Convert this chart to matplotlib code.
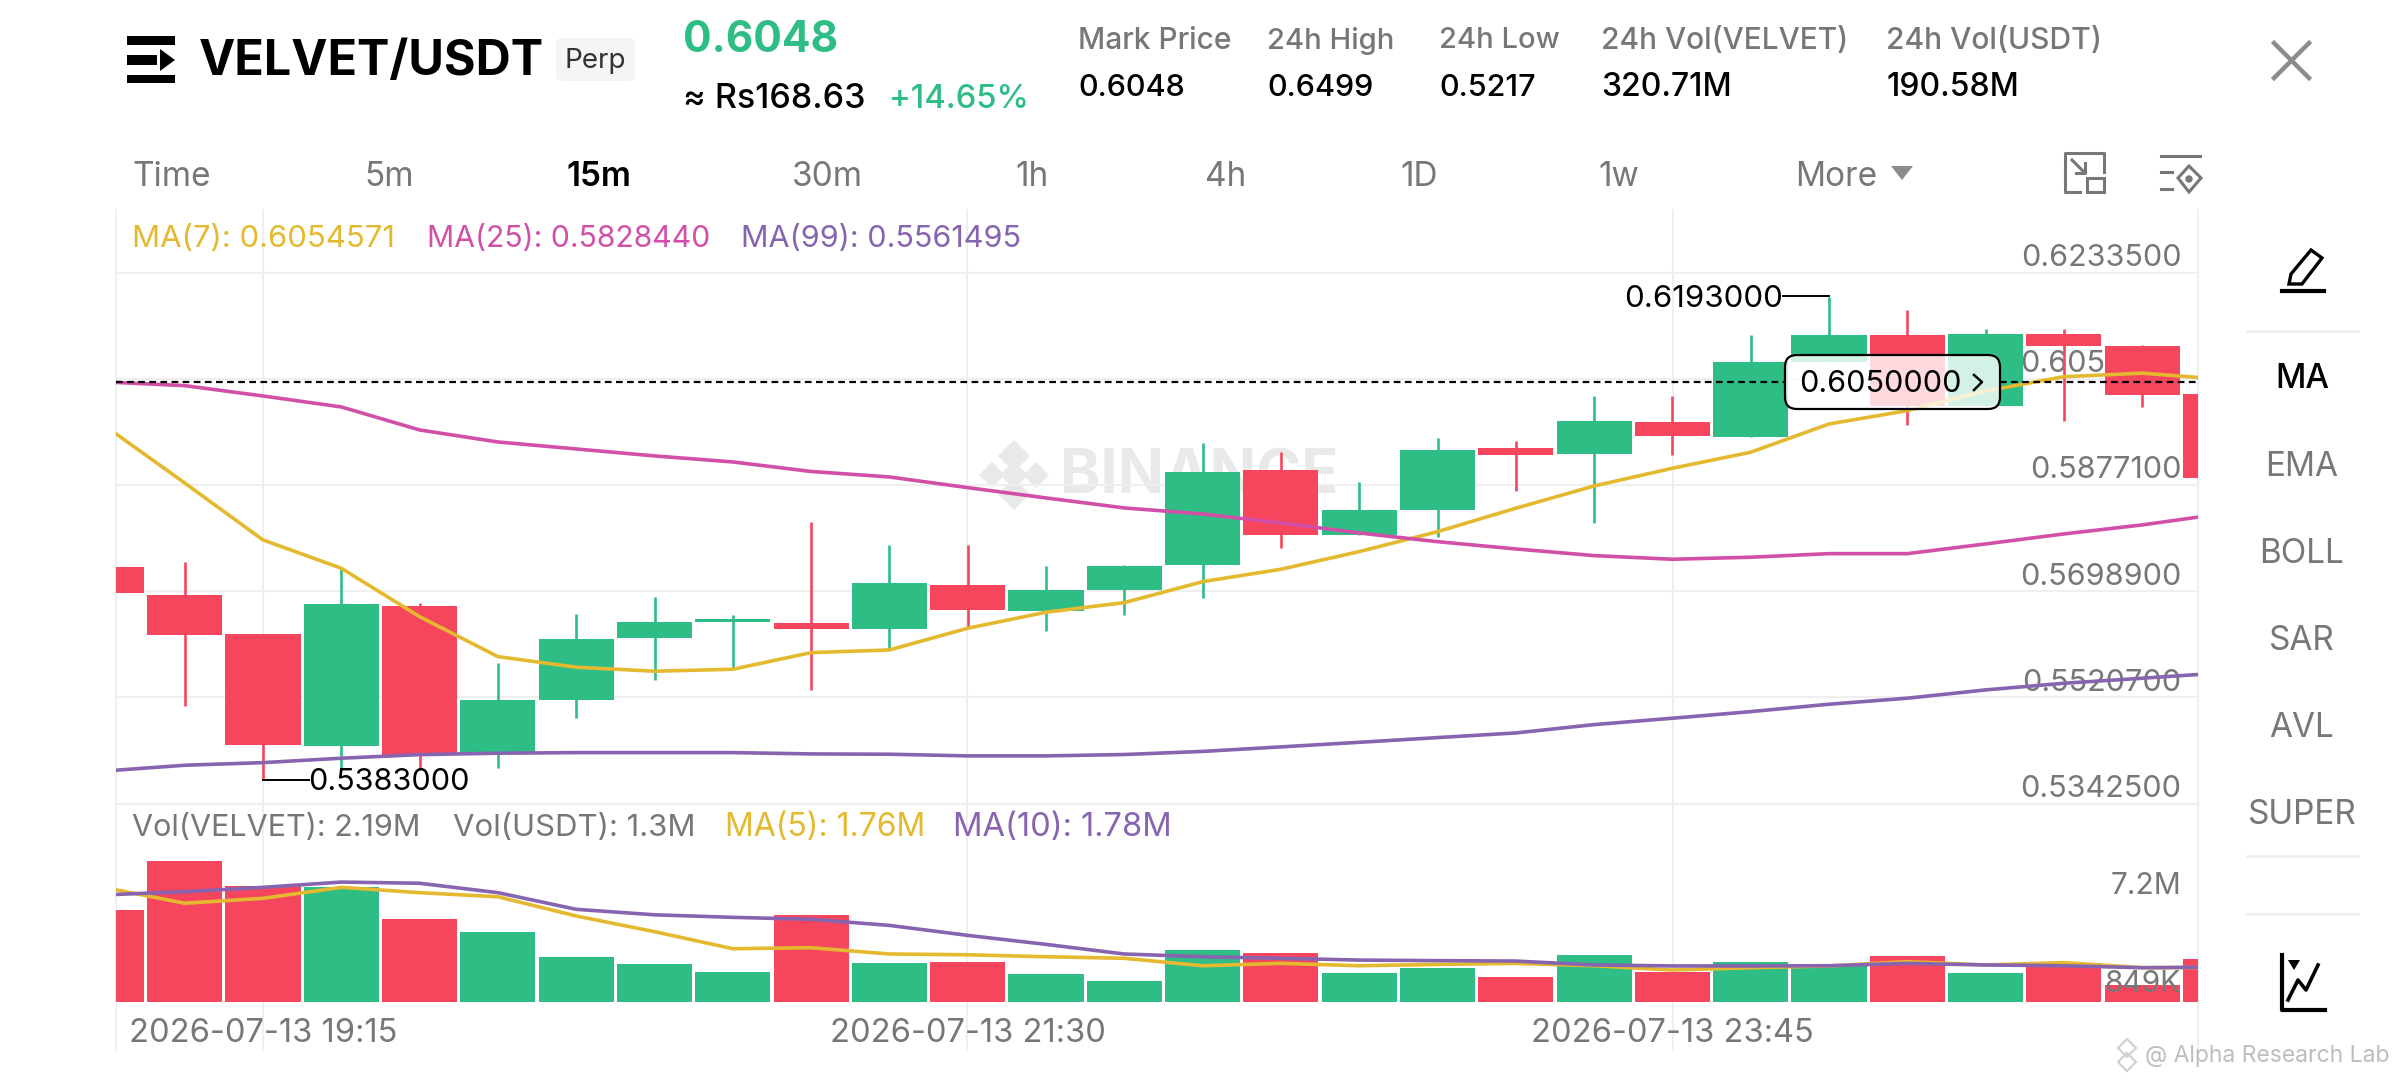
import matplotlib
matplotlib.use('Agg')
import matplotlib.pyplot as plt
from matplotlib.patches import FancyBboxPatch, Polygon, Rectangle, Circle

plt.rcParams['font.family'] = ['Inter', 'DejaVu Sans']

# price candles, one per 15 minutes
opens = [0.57390, 0.56920, 0.56271, 0.54386, 0.56741, 0.54279, 0.55168, 0.56199, 0.56467, 0.56455,
         0.56355, 0.57093, 0.56662, 0.57014, 0.57430, 0.59023, 0.57927, 0.58356, 0.59387, 0.59291,
         0.59828, 0.59580, 0.60835, 0.61288, 0.60097, 0.61305, 0.61103, 0.60305]
closes = [0.56959, 0.56259, 0.54408, 0.56774, 0.54240, 0.55163, 0.56182, 0.56467, 0.56517, 0.56355,
          0.57121, 0.56668, 0.57009, 0.57412, 0.58989, 0.57927, 0.58346, 0.59363, 0.59269, 0.59845,
          0.59593, 0.60835, 0.61288, 0.60097, 0.61305, 0.61097, 0.60288, 0.58890]
highs = [0.57390, 0.57484, 0.56271, 0.57373, 0.56786, 0.55784, 0.56606, 0.56892, 0.56584, 0.58155,
         0.57764, 0.57764, 0.57412, 0.57430, 0.59471, 0.59330, 0.58826, 0.59565, 0.59514, 0.60258,
         0.60258, 0.61288, 0.61930, 0.61707, 0.61395, 0.61384, 0.61127, 0.60305]
lows = [0.56959, 0.55068, 0.53830, 0.53989, 0.54010, 0.54017, 0.54861, 0.55504, 0.55678, 0.55331,
        0.56019, 0.56366, 0.56326, 0.56584, 0.56870, 0.57719, 0.57927, 0.57903, 0.58675, 0.58128,
        0.59274, 0.59580, 0.60835, 0.59778, 0.60097, 0.59850, 0.60080, 0.58890]

ma7 = [0.59744, 0.58804, 0.57848, 0.57373, 0.56561, 0.55890, 0.55712, 0.55645, 0.55678, 0.55957,
       0.56002, 0.56366, 0.56635, 0.56796, 0.57148, 0.57356, 0.57652, 0.57987, 0.58380, 0.58754,
       0.59051, 0.59320, 0.59794, 0.60018, 0.60348, 0.60587, 0.60647, 0.60546]
ma25 = [0.60499, 0.60437, 0.60264, 0.60080, 0.59694, 0.59492, 0.59375, 0.59258, 0.59157, 0.58997,
        0.58905, 0.58726, 0.58553, 0.58385, 0.58284, 0.58133, 0.57965, 0.57819, 0.57697, 0.57585,
        0.57524, 0.57558, 0.57618, 0.57618, 0.57781, 0.57949, 0.58100, 0.58284]
ma99 = [0.53972, 0.54067, 0.54111, 0.54185, 0.54245, 0.54269, 0.54279, 0.54279, 0.54279, 0.54257,
        0.54252, 0.54224, 0.54224, 0.54247, 0.54299, 0.54375, 0.54452, 0.54531, 0.54609, 0.54749,
        0.54856, 0.54967, 0.55091, 0.55192, 0.55331, 0.55443, 0.55527, 0.55615]

# volume in millions
volume = [4.69, 7.19, 5.92, 5.85, 4.22, 3.57, 2.30, 1.95, 1.53, 4.44, 2.01, 2.06, 1.44, 1.06,
          2.65, 2.52, 1.49, 1.75, 1.29, 2.38, 1.55, 2.03, 1.85, 2.35, 1.49, 1.97, 0.85, 2.19]
vol_ma5 = [5.82, 5.04, 5.29, 5.85, 5.58, 5.37, 4.39, 3.59, 2.72, 2.77, 2.45, 2.41, 2.31, 2.23,
           1.85, 1.97, 1.85, 1.92, 1.97, 1.85, 1.63, 1.75, 1.84, 2.06, 1.89, 2.01, 1.75, 1.76]
vol_ma10 = [5.47, 5.63, 5.85, 6.12, 6.06, 5.58, 4.73, 4.45, 4.32, 4.22, 3.91, 3.40, 2.94, 2.45,
            2.31, 2.23, 2.14, 2.11, 2.09, 1.89, 1.84, 1.84, 1.85, 1.97, 1.89, 1.85, 1.75, 1.78]

price_ticks = [0.62335, 0.60553, 0.58771, 0.56989, 0.55207, 0.53425]
date_ticks = [2, 11, 20]
date_labels = ['2026-07-13 19:15', '2026-07-13 21:30', '2026-07-13 23:45']
last_price = 0.605

tabs = ['Time', '5m', '15m', '30m', '1h', '4h', '1D', '1w', 'More']
stat_names = ['Mark Price', '24h High', '24h Low', '24h Vol(VELVET)', '24h Vol(USDT)']
stat_values = ['0.6048', '0.6499', '0.5217', '320.71M', '190.58M']
side_items = ['MA', 'EMA', 'BOLL', 'SAR', 'AVL', 'SUPER']

GREEN = '#2EBD85'
RED = '#F6465D'
YELLOW = '#E5B92F'
MAGENTA = '#D24FA8'
PURPLE = '#8764B0'
GRAY = '#777777'
GRID = '#EFEFEF'
MARK = '#E9E9E9'
W, H = 2400, 1080
STEP = 78.3
X0 = 106.4

fig = plt.figure(figsize=(24, 10.8), dpi=100)


def box(x0, y0, x1, y1, zorder):
    return fig.add_axes([x0 / W, 1 - y1 / H, (x1 - x0) / W, (y1 - y0) / H], zorder=zorder)


# pixel layer behind the chart
ui = box(0, 0, W, H, 0)
ui.set_xlim(0, W)
ui.set_ylim(H, 0)
ui.axis('off')


def txt(a, x, y, s, size, color='black', weight='normal', ha='left'):
    a.text(x, y + 3, s, fontsize=size, color=color, fontweight=weight, ha=ha, va='center')


# header
ui.add_patch(Rectangle((127, 36), 48, 9, color='black', lw=0))
ui.add_patch(Rectangle((127, 55), 30, 10, color='black', lw=0))
ui.add_patch(Rectangle((127, 75), 48, 8, color='black', lw=0))
ui.add_patch(Polygon([[160, 49], [175, 60], [160, 71]], color='black', lw=0))
txt(ui, 199, 59, 'VELVET/USDT', 35, weight='bold')
ui.add_patch(FancyBboxPatch((556, 38), 79, 43, boxstyle='round,pad=0,rounding_size=6', fc='#F5F5F5', ec='none'))
txt(ui, 595, 58, 'Perp', 20, '#333333', ha='center')
txt(ui, 683, 38, '0.6048', 30.5, GREEN, 'bold')
txt(ui, 683, 96, '≈ Rs168.63', 24.5, weight='medium')
txt(ui, 889, 96, '+14.65%', 23.5, GREEN, 'medium')
for x, name, val, s1, s2 in zip([1078, 1267, 1439, 1601, 1886], stat_names, stat_values,
                                [21.5, 21, 21, 21.5, 21.6], [22, 22, 22, 23, 23]):
    txt(ui, x, 38, name, s1, GRAY, 'medium')
    txt(ui, x, 85, val, s2, weight='medium')
ui.plot([2274, 2309], [43, 78], color='#8C8C8C', lw=3.2)
ui.plot([2309, 2274], [43, 78], color='#8C8C8C', lw=3.2)

for x, name in zip([132, 364, 567, 792, 1015, 1205, 1400, 1598, 1795], tabs):
    if name == '15m':
        txt(ui, x, 174, name, 24, weight='semibold')
    else:
        txt(ui, x, 174, name, 24, GRAY)
ui.add_patch(Polygon([[1891, 166], [1913, 166], [1902, 180]], color='#8C8C8C', lw=0))

# top right icons
ui.plot([2065, 2065, 2104, 2104], [175, 153, 153, 172], color=GRAY, lw=2.2)
ui.plot([2065, 2065, 2080], [175, 192, 192], color=GRAY, lw=2.2)
ui.add_patch(Rectangle((2087, 178), 17, 14, fc='white', ec=GRAY, lw=2.2))
ui.plot([2072, 2084], [160, 172], color=GRAY, lw=2.2)
ui.plot([2076, 2085, 2085], [173, 173, 163], color=GRAY, lw=2.2)
ui.plot([2161, 2200], [156, 156], color=GRAY, lw=2.2)
ui.plot([2161, 2172], [172, 172], color=GRAY, lw=2.2)
ui.plot([2161, 2172], [189, 189], color=GRAY, lw=2.2)
ui.add_patch(Polygon([[2189, 166], [2201, 178], [2189, 192], [2178, 178]], fill=False, ec=GRAY, lw=2.2))
ui.add_patch(Circle((2189, 179), 3, color=GRAY))

# side panel
for y, name in zip([376, 464, 551, 638, 725, 812], side_items):
    if name == 'MA':
        txt(ui, 2302, y, name, 24, weight='medium', ha='center')
    else:
        txt(ui, 2302, y, name, 24, GRAY, ha='center')
for y in [331, 856, 914]:
    ui.plot([2247, 2358], [y, y], color=GRID, lw=2)
ui.add_patch(Polygon([[2311, 250], [2322, 258], [2302, 284], [2289, 284], [2291, 274]], fill=False, ec='black', lw=2.4))
ui.plot([2282, 2316], [291, 291], color='black', lw=3)
ui.plot([2320, 2324], [291, 291], color='black', lw=3)
ui.plot([2282, 2282, 2325], [955, 1010, 1010], color='black', lw=3)
ui.plot([2288, 2298, 2306, 2318], [1000, 980, 990, 965], color='black', lw=2.6)
ui.add_patch(Polygon([[2288, 960], [2300, 960], [2294, 970]], color='black', lw=0))

# frame and grid
for x in [116, 263, 967, 1673, 2198]:
    ui.plot([x, x], [210, 1050], color=GRID, lw=1.5)

# watermarks
for cx, cy, r in [(1014, 456, 16), (992, 475, 13), (1014, 475, 14), (1036, 475, 13), (1014, 494, 16)]:
    ui.add_patch(Polygon([[cx, cy - r], [cx + r, cy], [cx, cy + r], [cx - r, cy]], color=MARK, lw=0))
txt(ui, 1060, 475, 'BINANCE', 44, MARK, 'bold')
for cx, cy, r in [(2127, 1048, 9), (2127, 1062, 9)]:
    ui.add_patch(Polygon([[cx, cy - r], [cx + r, cy], [cx, cy + r], [cx - r, cy]], fill=False, ec='#CFCFCF', lw=1.5))
txt(ui, 2145, 1053, '@ Alpha Research Lab', 16.5, '#BDBDBD')

# legends
for x, s, c, fs in zip([132, 427, 741],
                       ['MA(7): 0.6054571', 'MA(25): 0.5828440', 'MA(99): 0.5561495'],
                       [YELLOW, MAGENTA, PURPLE], [22.4, 21.7, 22]):
    txt(ui, x, 236, s, fs, c)
for x, s, c, fs in zip([132, 453, 725, 953],
                       ['Vol(VELVET): 2.19M', 'Vol(USDT): 1.3M', 'MA(5): 1.76M', 'MA(10): 1.78M'],
                       [GRAY, GRAY, YELLOW, PURPLE], [22, 22.4, 23, 23.5]):
    txt(ui, x, 825, s, fs, c)

# price panel
ax = box(116, 210, 2198, 803.5, 2)
ax.patch.set_alpha(0)
xs = list(range(len(opens)))
for i in xs:
    c = GREEN if closes[i] >= opens[i] else RED
    ax.vlines(i, lows[i], highs[i], color=c, lw=1.9, zorder=3)
    ax.bar(i, abs(closes[i] - opens[i]), bottom=min(opens[i], closes[i]), width=0.958, color=c, zorder=3)
ax.plot(xs, ma7, color=YELLOW, lw=2.6, zorder=4)
ax.plot(xs, ma25, color=MAGENTA, lw=2.6, zorder=4)
ax.plot(xs, ma99, color=PURPLE, lw=2.6, zorder=4)
ax.set_xlim((116 - X0) / STEP, (2198 - X0) / STEP)
# dashed last price line stops at the label box
ax.hlines(last_price, ax.get_xlim()[0], (1785 - X0) / STEP, color='black', lw=1.6, ls=(0, (3, 2)), zorder=5)
ax.hlines(last_price, (2000 - X0) / STEP, ax.get_xlim()[1], color='black', lw=1.6, ls=(0, (3, 2)), zorder=5)
ax.set_ylim(0.53427, 0.63385)
ax.set_yticks(price_ticks)
ax.set_xticks([])
ax.tick_params(left=False, labelleft=False)
ax.grid(axis='y', color=GRID, lw=1.5, zorder=0)
ax.set_axisbelow(True)
for s in ax.spines.values():
    s.set_visible(False)
for t in price_ticks:
    ax.annotate('%.7f' % t, xy=(1, t), xycoords=('axes fraction', 'data'), xytext=(-12, 10.5),
                textcoords='offset points', ha='right', va='center', fontsize=22, color=GRAY, zorder=1)

# volume panel
ax2 = box(116, 803.5, 2198, 1002, 2)
ax2.patch.set_alpha(0)
ax2.bar(xs, volume, width=0.958, color=[GREEN if closes[i] >= opens[i] else RED for i in xs])
ax2.plot(xs, vol_ma5, color=YELLOW, lw=2.6)
ax2.plot(xs, vol_ma10, color=PURPLE, lw=2.6)
ax2.set_xlim(ax.get_xlim())
ax2.set_ylim(0, 10.13)
ax2.set_yticks([])
ax2.set_xticks(date_ticks)
ax2.set_xticklabels(date_labels, fontsize=23.5, color=GRAY)
ax2.tick_params(axis='x', length=0, pad=11.5)
for k, s in ax2.spines.items():
    s.set_visible(k == 'top')
ax2.spines['top'].set_color(GRID)
ax2.spines['top'].set_linewidth(1.5)

# pixel layer on top of the chart
over = box(0, 0, W, H, 5)
over.set_xlim(0, W)
over.set_ylim(H, 0)
over.axis('off')
txt(over, 2181, 883, '7.2M', 21.5, GRAY, ha='right')
txt(over, 2181, 981, '849K', 21.5, GRAY, ha='right')
txt(over, 1783, 296, '0.6193000', 22.5, ha='right')
over.plot([1783, 1829], [296, 296], color='black', lw=1.4)
over.plot([263, 309], [780, 780], color='black', lw=1.4)
txt(over, 308, 779, '0.5383000', 22)
over.add_patch(FancyBboxPatch((1785, 355), 215, 54, boxstyle='round,pad=0,rounding_size=12',
                              fc='white', ec='none', alpha=0.8))
over.add_patch(FancyBboxPatch((1785, 355), 215, 54, boxstyle='round,pad=0,rounding_size=12',
                              fc='none', ec='black', lw=1.6))
txt(over, 1799, 381, '0.6050000', 22)
over.plot([1974, 1982, 1974], [375, 382, 390], color='black', lw=1.8)

fig.savefig('out.png', dpi=100)
